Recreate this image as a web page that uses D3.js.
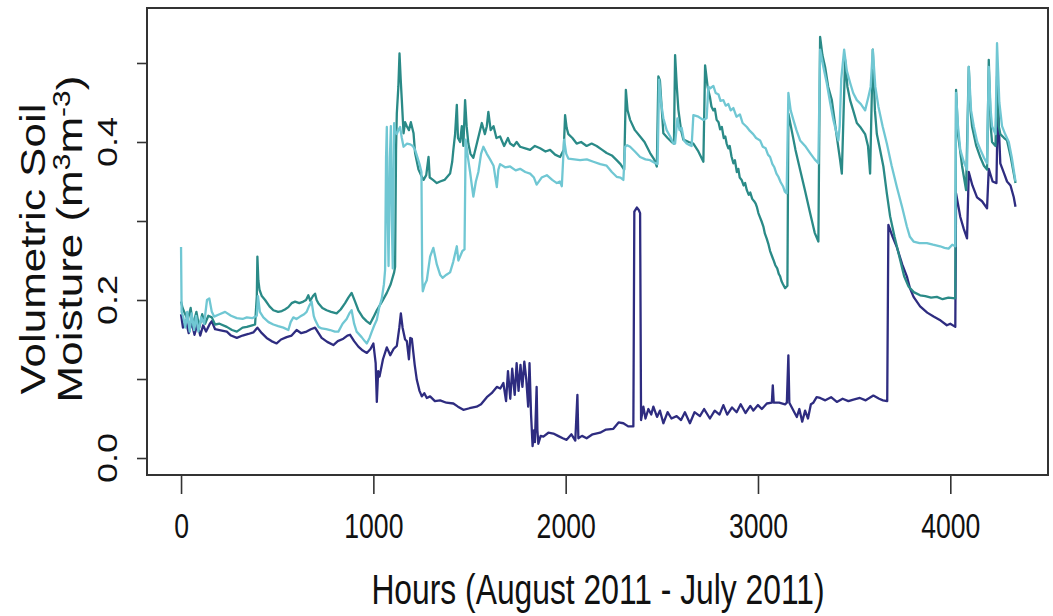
<!DOCTYPE html>
<html lang="en">
<head>
    <meta charset="UTF-8">
    <title>Volumetric Soil Moisture</title>
    <script src="https://d3js.org/d3.v7.min.js"></script>
    <style>
        body { margin: 0; background: #fff; }
        svg { display: block; font-family: "Liberation Sans", Arial, Helvetica, sans-serif; }
    </style>
</head>
<body>
    <svg id="chart" width="1053" height="616"></svg>

    <script>
        // Readings taken off the figure: [hour, m3/m3]
        const deepSeries = [[0,0.182],[10,0.165],[25,0.174],[40,0.158],[55,0.172],[70,0.156],[85,0.170],[100,0.155],[115,0.168],[130,0.160],[150,0.170],[160,0.173],[177,0.163],[200,0.162],[238,0.160],[260,0.155],[290,0.152],[320,0.155],[350,0.157],[376,0.159],[397,0.165],[420,0.158],[445,0.152],[470,0.148],[497,0.145],[520,0.150],[549,0.153],[575,0.155],[601,0.162],[625,0.158],[653,0.160],[675,0.163],[697,0.165],[715,0.158],[731,0.152],[760,0.147],[792,0.143],[815,0.148],[844,0.151],[865,0.155],[879,0.156],[900,0.148],[922,0.141],[945,0.136],[966,0.133],[985,0.138],[1000,0.145],[1012,0.120],[1018,0.071],[1025,0.110],[1032,0.103],[1050,0.125],[1070,0.140],[1088,0.130],[1105,0.138],[1122,0.142],[1135,0.165],[1143,0.183],[1152,0.165],[1165,0.150],[1174,0.148],[1185,0.125],[1192,0.152],[1200,0.151],[1215,0.118],[1226,0.099],[1240,0.085],[1252,0.078],[1265,0.082],[1278,0.076],[1295,0.078],[1320,0.072],[1347,0.073],[1380,0.070],[1416,0.069],[1440,0.065],[1468,0.061],[1500,0.063],[1537,0.065],[1560,0.068],[1590,0.077],[1615,0.082],[1642,0.090],[1660,0.088],[1676,0.095],[1690,0.072],[1700,0.110],[1712,0.075],[1722,0.113],[1735,0.080],[1745,0.120],[1755,0.085],[1765,0.118],[1775,0.090],[1785,0.122],[1795,0.100],[1805,0.065],[1812,0.120],[1820,0.055],[1828,0.015],[1835,0.035],[1840,0.020],[1849,0.090],[1853,0.035],[1858,0.018],[1870,0.028],[1884,0.027],[1910,0.032],[1936,0.031],[1960,0.028],[1985,0.025],[2005,0.023],[2030,0.030],[2050,0.022],[2061,0.080],[2066,0.025],[2085,0.028],[2109,0.025],[2140,0.030],[2179,0.032],[2210,0.036],[2248,0.037],[2275,0.045],[2300,0.044],[2325,0.040],[2352,0.040],[2357,0.312],[2370,0.317],[2380,0.314],[2387,0.310],[2392,0.048],[2404,0.065],[2415,0.050],[2430,0.062],[2445,0.055],[2456,0.065],[2475,0.052],[2490,0.060],[2508,0.044],[2530,0.058],[2550,0.050],[2577,0.053],[2600,0.048],[2620,0.058],[2646,0.044],[2670,0.058],[2698,0.053],[2720,0.062],[2750,0.050],[2775,0.060],[2800,0.055],[2820,0.067],[2840,0.055],[2865,0.064],[2889,0.058],[2910,0.068],[2935,0.057],[2960,0.066],[2976,0.060],[3000,0.067],[3020,0.062],[3046,0.069],[3072,0.070],[3077,0.092],[3082,0.070],[3110,0.070],[3141,0.068],[3150,0.070],[3158,0.130],[3163,0.070],[3180,0.062],[3202,0.052],[3215,0.062],[3230,0.046],[3245,0.060],[3260,0.050],[3275,0.068],[3288,0.070],[3305,0.077],[3323,0.076],[3350,0.073],[3380,0.077],[3410,0.071],[3440,0.075],[3470,0.072],[3496,0.074],[3530,0.076],[3560,0.073],[3600,0.079],[3630,0.075],[3650,0.073],[3672,0.072],[3678,0.295],[3700,0.280],[3722,0.267],[3750,0.245],[3774,0.230],[3790,0.215],[3809,0.204],[3843,0.192],[3880,0.184],[3913,0.179],[3950,0.174],[3982,0.168],[4000,0.170],[4026,0.166],[4030,0.335],[4052,0.305],[4070,0.290],[4087,0.278],[4096,0.362],[4115,0.345],[4139,0.330],[4165,0.325],[4191,0.316],[4200,0.366],[4220,0.350],[4240,0.348],[4247,0.451],[4260,0.373],[4280,0.360],[4295,0.350],[4313,0.345],[4330,0.330],[4339,0.318]];

        const midSeries = [[0,0.198],[8,0.190],[20,0.183],[35,0.175],[50,0.190],[62,0.168],[80,0.185],[95,0.165],[110,0.182],[125,0.170],[142,0.180],[160,0.178],[177,0.169],[200,0.170],[238,0.166],[265,0.162],[290,0.160],[320,0.165],[342,0.166],[370,0.168],[385,0.169],[394,0.205],[397,0.255],[402,0.225],[408,0.213],[420,0.205],[437,0.200],[460,0.192],[480,0.187],[505,0.185],[524,0.186],[540,0.188],[558,0.191],[575,0.196],[593,0.198],[615,0.196],[636,0.198],[650,0.200],[662,0.206],[672,0.199],[686,0.205],[697,0.208],[705,0.200],[714,0.196],[735,0.190],[757,0.187],[780,0.185],[809,0.183],[830,0.188],[853,0.196],[870,0.203],[887,0.209],[905,0.198],[922,0.187],[945,0.178],[966,0.173],[983,0.170],[1000,0.178],[1018,0.187],[1045,0.198],[1070,0.209],[1090,0.220],[1108,0.235],[1113,0.242],[1118,0.390],[1122,0.436],[1130,0.470],[1136,0.512],[1142,0.480],[1148,0.453],[1157,0.411],[1165,0.425],[1174,0.420],[1185,0.415],[1195,0.425],[1209,0.411],[1217,0.386],[1235,0.365],[1250,0.357],[1261,0.352],[1275,0.358],[1287,0.381],[1293,0.355],[1310,0.352],[1330,0.348],[1347,0.350],[1370,0.352],[1399,0.360],[1410,0.375],[1416,0.390],[1425,0.410],[1434,0.447],[1440,0.405],[1451,0.400],[1460,0.420],[1468,0.395],[1477,0.453],[1485,0.420],[1494,0.398],[1505,0.385],[1520,0.380],[1540,0.400],[1564,0.424],[1580,0.410],[1590,0.420],[1598,0.438],[1610,0.415],[1625,0.420],[1640,0.405],[1659,0.407],[1680,0.395],[1700,0.405],[1711,0.398],[1730,0.395],[1745,0.400],[1763,0.394],[1790,0.392],[1815,0.390],[1840,0.395],[1867,0.392],[1895,0.388],[1919,0.390],[1945,0.384],[1971,0.381],[1990,0.390],[1997,0.434],[2005,0.418],[2014,0.410],[2035,0.405],[2057,0.398],[2080,0.400],[2109,0.395],[2135,0.398],[2161,0.395],[2190,0.390],[2213,0.386],[2240,0.383],[2265,0.377],[2285,0.372],[2304,0.365],[2313,0.466],[2322,0.440],[2335,0.428],[2360,0.415],[2387,0.407],[2410,0.400],[2439,0.386],[2460,0.378],[2474,0.369],[2482,0.483],[2490,0.478],[2500,0.440],[2508,0.411],[2530,0.405],[2551,0.400],[2563,0.398],[2569,0.510],[2578,0.470],[2586,0.441],[2600,0.415],[2612,0.403],[2640,0.400],[2664,0.398],[2690,0.388],[2716,0.375],[2725,0.497],[2738,0.470],[2750,0.457],[2758,0.445],[2768,0.440],[2776,0.442],[2785,0.428],[2795,0.425],[2803,0.416],[2812,0.419],[2822,0.405],[2830,0.407],[2837,0.398],[2846,0.392],[2853,0.395],[2862,0.382],[2872,0.373],[2880,0.377],[2890,0.362],[2898,0.366],[2905,0.355],[2915,0.352],[2925,0.345],[2933,0.348],[2942,0.339],[2952,0.333],[2960,0.336],[2970,0.328],[2980,0.325],[2988,0.322],[2994,0.318],[3002,0.310],[3010,0.305],[3018,0.300],[3028,0.293],[3036,0.284],[3045,0.278],[3055,0.270],[3063,0.262],[3072,0.256],[3080,0.251],[3090,0.244],[3100,0.240],[3108,0.233],[3115,0.230],[3122,0.224],[3130,0.220],[3141,0.215],[3153,0.218],[3158,0.436],[3175,0.415],[3195,0.390],[3219,0.365],[3245,0.338],[3271,0.310],[3295,0.285],[3314,0.274],[3323,0.533],[3335,0.510],[3349,0.495],[3365,0.470],[3384,0.453],[3405,0.415],[3427,0.377],[3436,0.360],[3453,0.504],[3465,0.470],[3479,0.453],[3495,0.440],[3514,0.424],[3535,0.418],[3557,0.410],[3572,0.395],[3583,0.360],[3597,0.517],[3608,0.440],[3618,0.410],[3635,0.390],[3652,0.369],[3670,0.335],[3687,0.306],[3710,0.280],[3739,0.251],[3760,0.230],[3783,0.217],[3810,0.210],[3843,0.206],[3870,0.205],[3900,0.203],[3930,0.204],[3960,0.201],[3990,0.203],[4026,0.202],[4030,0.466],[4040,0.410],[4061,0.370],[4082,0.339],[4096,0.495],[4105,0.440],[4113,0.420],[4135,0.395],[4157,0.380],[4175,0.370],[4191,0.365],[4200,0.504],[4210,0.420],[4217,0.400],[4235,0.395],[4243,0.483],[4252,0.420],[4260,0.410],[4280,0.405],[4295,0.402],[4315,0.380],[4330,0.360],[4339,0.348]];

        const shallowSeries = [[0,0.267],[3,0.185],[12,0.178],[22,0.165],[32,0.185],[45,0.160],[55,0.183],[68,0.162],[78,0.180],[90,0.160],[105,0.178],[120,0.170],[135,0.200],[147,0.202],[160,0.185],[172,0.179],[200,0.182],[229,0.185],[260,0.180],[290,0.177],[320,0.176],[342,0.178],[370,0.177],[394,0.180],[400,0.205],[410,0.185],[428,0.178],[455,0.172],[480,0.169],[505,0.167],[532,0.165],[558,0.162],[570,0.172],[584,0.178],[600,0.176],[619,0.179],[640,0.182],[653,0.185],[665,0.192],[679,0.198],[690,0.180],[697,0.175],[715,0.166],[731,0.164],[755,0.163],[775,0.162],[800,0.160],[818,0.160],[840,0.170],[861,0.176],[875,0.183],[887,0.187],[900,0.170],[913,0.160],[939,0.153],[955,0.148],[966,0.145],[980,0.152],[992,0.160],[1005,0.168],[1018,0.175],[1030,0.190],[1044,0.202],[1055,0.220],[1061,0.238],[1066,0.380],[1070,0.419],[1075,0.300],[1079,0.243],[1086,0.380],[1091,0.420],[1096,0.300],[1101,0.240],[1105,0.360],[1108,0.424],[1115,0.412],[1122,0.410],[1130,0.415],[1139,0.419],[1148,0.405],[1157,0.394],[1175,0.398],[1192,0.397],[1205,0.395],[1217,0.390],[1230,0.380],[1240,0.372],[1250,0.362],[1254,0.230],[1257,0.211],[1268,0.220],[1278,0.225],[1295,0.255],[1312,0.266],[1330,0.245],[1347,0.232],[1360,0.228],[1380,0.232],[1399,0.235],[1415,0.248],[1434,0.268],[1442,0.250],[1451,0.255],[1463,0.262],[1474,0.264],[1480,0.403],[1492,0.380],[1503,0.362],[1512,0.345],[1520,0.331],[1533,0.350],[1546,0.362],[1560,0.385],[1572,0.394],[1590,0.385],[1607,0.378],[1625,0.370],[1642,0.343],[1650,0.365],[1659,0.372],[1685,0.368],[1711,0.369],[1740,0.364],[1763,0.366],[1790,0.362],[1815,0.360],[1835,0.355],[1849,0.346],[1875,0.355],[1902,0.358],[1930,0.352],[1954,0.348],[1970,0.350],[1980,0.344],[1992,0.403],[2003,0.385],[2014,0.379],[2045,0.378],[2075,0.377],[2110,0.378],[2144,0.375],[2180,0.372],[2213,0.370],[2240,0.362],[2265,0.356],[2285,0.355],[2300,0.352],[2309,0.394],[2320,0.396],[2335,0.394],[2360,0.388],[2387,0.381],[2415,0.378],[2439,0.377],[2460,0.374],[2478,0.372],[2486,0.479],[2496,0.450],[2508,0.430],[2525,0.415],[2543,0.407],[2560,0.398],[2569,0.398],[2581,0.430],[2592,0.415],[2603,0.418],[2615,0.402],[2629,0.398],[2645,0.396],[2655,0.395],[2664,0.434],[2690,0.432],[2715,0.428],[2733,0.430],[2742,0.470],[2752,0.468],[2768,0.471],[2780,0.462],[2795,0.460],[2805,0.452],[2820,0.453],[2832,0.446],[2846,0.448],[2858,0.440],[2872,0.443],[2888,0.432],[2906,0.435],[2920,0.424],[2942,0.419],[2958,0.414],[2975,0.410],[2990,0.405],[3011,0.402],[3025,0.394],[3040,0.392],[3052,0.384],[3063,0.381],[3075,0.372],[3085,0.368],[3096,0.360],[3106,0.356],[3118,0.349],[3130,0.344],[3140,0.337],[3149,0.335],[3158,0.462],[3170,0.440],[3184,0.428],[3200,0.415],[3219,0.402],[3245,0.395],[3271,0.386],[3295,0.378],[3314,0.373],[3323,0.517],[3340,0.495],[3358,0.474],[3375,0.450],[3392,0.428],[3405,0.415],[3418,0.402],[3425,0.420],[3433,0.480],[3448,0.517],[3462,0.490],[3479,0.475],[3495,0.462],[3514,0.453],[3535,0.448],[3557,0.440],[3574,0.457],[3586,0.470],[3597,0.517],[3610,0.470],[3626,0.445],[3648,0.420],[3670,0.398],[3695,0.370],[3722,0.343],[3750,0.317],[3774,0.293],[3790,0.280],[3809,0.274],[3840,0.272],[3878,0.272],[3910,0.270],[3947,0.268],[3970,0.266],[3991,0.265],[4010,0.270],[4026,0.268],[4030,0.462],[4040,0.420],[4052,0.390],[4070,0.375],[4087,0.365],[4096,0.495],[4108,0.440],[4122,0.420],[4140,0.400],[4157,0.390],[4175,0.380],[4191,0.373],[4200,0.495],[4210,0.440],[4217,0.420],[4235,0.410],[4243,0.525],[4255,0.450],[4269,0.420],[4285,0.410],[4304,0.400],[4320,0.380],[4339,0.350]];

        const xTicks = [0, 1000, 2000, 3000, 4000];
        const yTicks = [0, 0.1, 0.2, 0.3, 0.4, 0.5];
        const yLabels = ["0.0", "", "0.2", "", "0.4", ""];

        const svg = d3.select("#chart");

        // plot region, R style with 4% padding on both axes
        const x = d3.scaleLinear().domain([-177, 4508]).range([147, 1048]);
        const y = d3.scaleLinear().domain([-0.0215, 0.5696]).range([475, 8]);

        const line = d3.line()
            .x(d => x(d[0]))
            .y(d => y(d[1]));

        const series = [
            { pts: deepSeries, color: "#2e2c80" },
            { pts: midSeries, color: "#2a8a87" },
            { pts: shallowSeries, color: "#70c7d3" }
        ];

        svg.append("g")
            .selectAll("path")
            .data(series)
            .enter()
            .append("path")
            .attr("d", d => line(d.pts))
            .attr("fill", "none")
            .attr("stroke", d => d.color)
            .attr("stroke-width", 2.3)
            .attr("stroke-linejoin", "round");

        // box
        svg.append("rect")
            .attr("x", 147).attr("y", 8)
            .attr("width", 1048 - 147).attr("height", 475 - 8)
            .attr("fill", "none")
            .attr("stroke", "#333")
            .attr("stroke-width", 2);

        // x axis
        const xAxis = svg.append("g")
            .attr("transform", "translate(0,476)")
            .call(d3.axisBottom(x).tickValues(xTicks).tickSize(18).tickFormat(d3.format("d")));
        xAxis.select(".domain").remove();
        xAxis.selectAll(".tick line").attr("stroke", "#333").attr("stroke-width", 1.6);
        xAxis.selectAll(".tick text")
            .attr("y", 62).attr("dy", null)
            .attr("transform", "scale(0.76,1)")
            .attr("fill", "#111")
            .style("font-size", "35px");

        // y axis
        const yAxis = svg.append("g")
            .attr("transform", "translate(147,0)")
            .call(d3.axisLeft(y).tickValues(yTicks).tickSize(10).tickFormat(""));
        yAxis.select(".domain").remove();
        yAxis.selectAll(".tick line").attr("stroke", "#333").attr("stroke-width", 1.6);

        svg.append("g")
            .selectAll("text")
            .data(yTicks.filter((_, i) => yLabels[i] !== ""))
            .enter()
            .append("text")
            .attr("transform", d => `translate(117,${y(d)}) rotate(-90) scale(1,0.75)`)
            .attr("text-anchor", "middle")
            .attr("fill", "#111")
            .style("font-size", "36px")
            .text(d => yLabels[yTicks.indexOf(d)]);

        // axis titles
        svg.append("text")
            .attr("transform", "translate(598,604) scale(0.74,1)")
            .attr("text-anchor", "middle")
            .attr("fill", "#111")
            .style("font-size", "43px")
            .text("Hours (August 2011 - July 2011)");

        svg.append("text")
            .attr("transform", "translate(45,249) rotate(-90) scale(1,0.78)")
            .attr("text-anchor", "middle")
            .attr("fill", "#111")
            .style("font-size", "44px")
            .text("Volumetric Soil");

        const t2 = svg.append("text")
            .attr("transform", "translate(82,239) rotate(-90) scale(1,0.78)")
            .attr("text-anchor", "middle")
            .attr("fill", "#111")
            .style("font-size", "44px");
        t2.append("tspan").text("Moisture (m");
        t2.append("tspan").attr("dy", -16).style("font-size", "30px").text("3");
        t2.append("tspan").attr("dy", 16).text("m");
        t2.append("tspan").attr("dy", -16).style("font-size", "30px").text("-3");
        t2.append("tspan").attr("dy", 16).text(")");
    </script>
</body>
</html>
